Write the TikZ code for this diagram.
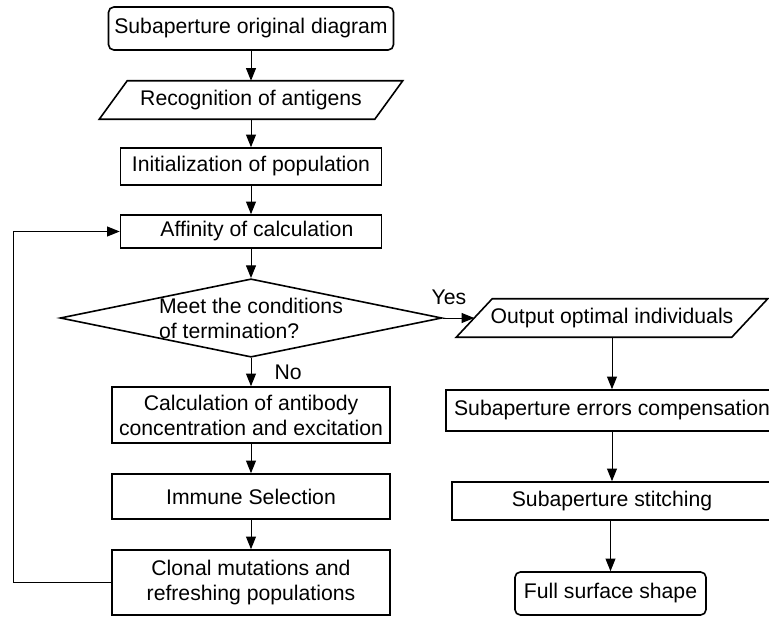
\documentclass[tikz,border=0pt]{standalone}
\usepackage{fontspec}
\setmainfont{Liberation Sans}
\usetikzlibrary{calc, positioning}
\usetikzlibrary{arrows.meta}
\usetikzlibrary{shapes.geometric}

\begin{document}
\begin{tikzpicture}[x=0.75pt, y=-0.75pt,
  every node/.style={font=\fontsize{15.9}{18.8}\selectfont},
  box/.style={draw, line width=1.2pt, inner sep=0pt, align=center},
  roundbox/.style={box, rounded corners=4pt},
  iobox/.style={inner sep=0pt, align=center},
  decision/.style={draw, line width=1.2pt, diamond, aspect=4.87, inner sep=0pt, align=left},
  arr/.style={-{Triangle[length=9.5pt, width=7.5pt]}, line width=0.75pt}]
\def\colL{251}
\def\colR{612}

\useasboundingbox (0,0) rectangle (769,617);
\clip (0,0) rectangle (769,617);

% main column
\node[roundbox, minimum width=213.75pt, minimum height=32.25pt] (start) at (\colL,28.5) {Subaperture original diagram};
\node[iobox, minimum width=206.25pt, minimum height=28.5pt] (recog) at (\colL,100) {Recognition of antigens};
\node[box, minimum width=195.75pt, minimum height=27.75pt] (init) at (\colL,166.5) {Initialization of population};
\node[box, minimum width=195.75pt, minimum height=24.75pt] (aff) at (\colL,231.5) {\ \ Affinity of calculation};
\node[decision, minimum width=285pt, minimum height=58.5pt] (dec) at (\colL,318) {Meet the conditions\\of termination?};
\node[box, minimum width=208.5pt, minimum height=42pt] (conc) at (\colL,415) {Calculation of antibody\\concentration and excitation};
\node[box, minimum width=208.5pt, minimum height=33.75pt] (sel) at (\colL,496.5) {Immune Selection};
\node[box, minimum width=208.5pt, minimum height=48.75pt] (clone) at (\colL,582.5) {Clonal mutations and\\refreshing populations};

% output column
\node[iobox, minimum width=206.25pt, minimum height=28.5pt] (out) at (\colR,318) {Output optimal individuals};
\node[box, minimum width=249pt, minimum height=30.75pt] (comp) at (\colR,410.5) {Subaperture errors compensation};
\node[box, minimum width=240pt, minimum height=28.5pt] (stitch) at (\colR,501) {Subaperture stitching};
\node[roundbox, minimum width=143.25pt, minimum height=32.25pt] (full) at (610.5,593.5) {Full surface shape};

% parallelograms
\foreach \n/\d in {recog/14, out/18}
  \draw[line width=1.2pt] ($(\n.south west)+(-\d,0)$) -- ($(\n.north west)+(\d,0)$)
    -- ($(\n.north east)+(\d,0)$) -- ($(\n.south east)+(-\d,0)$) -- cycle;

% connectors
\draw[arr] (start) -- (recog);
\draw[arr] (recog) -- (init);
\draw[arr] (init) -- (aff);
\draw[arr] (aff) -- (dec);
\draw[arr] (dec) -- (conc) node[midway, right, xshift=14pt] {No};
\draw[arr] (conc) -- (sel);
\draw[arr] (sel) -- (clone);
\draw[arr] (clone.west) -- ++(-98,0) |- (aff.west);
\draw[arr] (dec.east) -- (out.west) node[pos=0.2, above, yshift=6pt] {Yes};
\draw[arr] (out) -- (comp);
\draw[arr] (comp) -- (stitch);
\draw[arr] (stitch.south -| full) -- (full);
\end{tikzpicture}
\end{document}
